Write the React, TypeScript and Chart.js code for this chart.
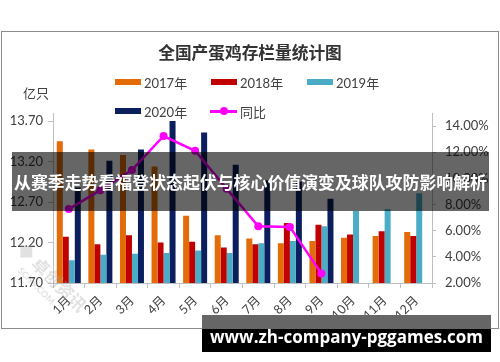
import React, { useEffect, useRef } from "react";
import { Chart, registerables } from "chart.js";

Chart.register(...registerables);

const months = ["1月", "2月", "3月", "4月", "5月", "6月", "7月", "8月", "9月", "10月", "11月", "12月"];
const s2017 = [13.45, 13.35, 13.28, 13.14, 12.53, 12.29, 12.25, 12.19, 12.22, 12.26, 12.28, 12.33];
const s2018 = [12.27, 12.18, 12.29, 12.2, 12.21, 12.14, 12.18, 12.44, 12.42, 12.3, 12.34, 12.28];
const s2019 = [11.98, 12.05, 12.06, 12.07, 12.1, 12.07, 12.19, 12.22, 12.4, 12.59, 12.61, 12.81];
const s2020 = [12.88, 13.21, 13.35, 13.7, 13.56, 13.16, 12.97, 12.95, 12.74, null, null, null];
const yoy = [7.65, 9.1, 10.64, 13.24, 12.11, 9.2, 6.34, 6.29, 2.72, null, null, null];
const leftTicks = [11.7, 12.2, 12.7, 13.2, 13.7];
const rightTicks = [2, 4, 6, 8, 10, 12, 14];

const C2017 = "#E36C09";
const C2018 = "#C00000";
const C2019 = "#4BACC6";
const C2020 = "#0B1F5E";
const CYOY = "#FF00FF";

const FONT = 'Lato, "Noto Sans CJK SC", sans-serif';
const CJK = '"Noto Sans CJK SC", sans-serif';
const TXT = "#404040";
const AXIS = "#bfbfbf";

export default function App() {
  const ref = useRef<HTMLCanvasElement | null>(null);

  useEffect(() => {
    if (!ref.current) return;
    const chart = new Chart(ref.current, {
      type: "bar",
      data: {
        labels: months,
        datasets: [
          {
            type: "line",
            label: "同比",
            data: yoy,
            yAxisID: "y1",
            borderColor: CYOY,
            backgroundColor: CYOY,
            borderWidth: 2.5,
            pointRadius: 4,
            pointBackgroundColor: CYOY,
            pointBorderColor: CYOY,
            pointBorderWidth: 0,
            order: 0,
            spanGaps: false,
          } as any,
          { label: "2017年", data: s2017, backgroundColor: C2017, yAxisID: "y", order: 1 },
          { label: "2018年", data: s2018, backgroundColor: C2018, yAxisID: "y", order: 1 },
          { label: "2019年", data: s2019, backgroundColor: C2019, yAxisID: "y", order: 1 },
          { label: "2020年", data: s2020, backgroundColor: C2020, yAxisID: "y", order: 1 },
        ],
      },
      options: {
        animation: false,
        responsive: false,
        maintainAspectRatio: false,
        layout: { padding: { top: 113, left: 0, right: 0, bottom: 0 } },
        plugins: {
          legend: { display: false },
          title: { display: false },
          tooltip: { enabled: false },
        },
        datasets: { bar: { categoryPercentage: 0.76, barPercentage: 1 } } as any,
        scales: {
          x: {
            offset: true,
            grid: { offset: true, drawOnChartArea: false, drawTicks: true, tickLength: 5, color: AXIS },
            border: { color: AXIS },
            ticks: { minRotation: 45, maxRotation: 45, padding: 5, color: TXT, font: { family: FONT, size: 12.5 } },
            afterFit: (s: any) => {
              s.height = 79;
            },
          },
          y: {
            position: "left",
            min: 11.7,
            max: 13.8,
            afterBuildTicks: (s: any) => {
              s.ticks = leftTicks.map((v) => ({ value: v }));
            },
            ticks: {
              padding: 5,
              color: TXT,
              font: { family: FONT, size: 13 },
              callback: (v: any) => Number(v).toFixed(2),
            },
            grid: { drawOnChartArea: false, tickLength: 5, color: AXIS },
            border: { color: AXIS },
            afterFit: (s: any) => {
              s.width = 53;
            },
          },
          y1: {
            position: "right",
            min: 2,
            max: 15,
            afterBuildTicks: (s: any) => {
              s.ticks = rightTicks.map((v) => ({ value: v }));
            },
            ticks: {
              padding: 9,
              color: TXT,
              font: { family: FONT, size: 13 },
              callback: (v: any) => Number(v).toFixed(2) + "%",
            },
            grid: { drawOnChartArea: false, tickLength: 4, color: AXIS },
            border: { color: AXIS },
            afterFit: (s: any) => {
              s.width = 68;
            },
          },
        },
      } as any,
    });
    return () => chart.destroy();
  }, []);

  const legendText: React.CSSProperties = { fontFamily: FONT, fontSize: 13, color: TXT, whiteSpace: "nowrap" };
  const item = (left: number, cy: number): React.CSSProperties => ({
    position: "absolute",
    left,
    top: cy - 10,
    height: 20,
    display: "flex",
    alignItems: "center",
  });
  const swatch = (c: string): React.CSSProperties => ({ width: 26, height: 6, background: c, marginRight: 3 });

  return (
    <div style={{ position: "absolute", left: 0, top: 0, width: 500, height: 362, background: "#fff", overflow: "hidden" }}>
      <canvas ref={ref} width={500} height={362} style={{ position: "absolute", left: 0, top: 0, width: 500, height: 362 }} />
      <div
        style={{
          position: "absolute",
          left: 1,
          top: 31,
          width: 498,
          height: 298,
          border: "1px solid #8c8c8c",
          boxSizing: "border-box",
          pointerEvents: "none",
        }}
      />
      <div
        style={{
          position: "absolute",
          left: 0,
          width: 500,
          top: 40,
          height: 24,
          lineHeight: "24px",
          textAlign: "center",
          fontFamily: CJK,
          fontWeight: 700,
          fontSize: 16.7,
          color: "#333",
        }}
      >
        全国产蛋鸡存栏量统计图
      </div>
      <div style={{ position: "absolute", left: 23, top: 83, height: 20, lineHeight: "20px", ...legendText }}>亿只</div>

      <div style={item(115, 82)}>
        <div style={swatch(C2017)} />
        <span style={legendText}>2017年</span>
      </div>
      <div style={item(211, 82)}>
        <div style={swatch(C2018)} />
        <span style={legendText}>2018年</span>
      </div>
      <div style={item(307, 82)}>
        <div style={swatch(C2019)} />
        <span style={legendText}>2019年</span>
      </div>
      <div style={item(115, 111)}>
        <div style={swatch(C2020)} />
        <span style={legendText}>2020年</span>
      </div>
      <div style={item(210, 111)}>
        <div style={{ position: "relative", width: 27, height: 8, marginRight: 3 }}>
          <div style={{ position: "absolute", left: 0, top: 3, width: 27, height: 2.5, background: CYOY }} />
          <div
            style={{ position: "absolute", left: 9.5, top: 0, width: 8, height: 8, borderRadius: 4, background: CYOY }}
          />
        </div>
        <span style={legendText}>同比</span>
      </div>

      <div
        style={{
          position: "absolute",
          left: 30,
          top: 236,
          transform: "rotate(45deg)",
          transformOrigin: "left top",
          fontFamily: CJK,
          fontWeight: 700,
          fontSize: 17,
          color: "rgba(170,170,170,0.35)",
          whiteSpace: "nowrap",
          pointerEvents: "none",
        }}
      >
        ◆ 卓创资讯
        <div style={{ fontSize: 9, fontFamily: FONT, marginLeft: 16 }}>SCI99.COM</div>
      </div>

      <div
        style={{
          position: "absolute",
          left: 12,
          top: 152,
          width: 477,
          height: 59,
          background: "rgba(0,0,0,0.6)",
          display: "flex",
          alignItems: "center",
          justifyContent: "center",
          fontFamily: CJK,
          fontWeight: 700,
          fontSize: 16.9,
          color: "#fff",
          whiteSpace: "nowrap",
        }}
      >
        从赛季走势看福登状态起伏与核心价值演变及球队攻防影响解析
      </div>

      <div style={{ position: "absolute", left: 202, top: 315, width: 289, height: 14, background: "#666" }} />
      <div style={{ position: "absolute", left: 202, top: 329, width: 289, height: 23, background: "#000" }} />
      <div
        style={{
          position: "absolute",
          left: 202,
          top: 326,
          width: 289,
          height: 22,
          lineHeight: "22px",
          textAlign: "center",
          fontFamily: '"Open Sans", "Noto Sans", sans-serif',
          fontWeight: 700,
          fontSize: 17,
          color: "#fff",
          whiteSpace: "nowrap",
        }}
      >
        www.zh-company-pggames.com
      </div>
    </div>
  );
}
